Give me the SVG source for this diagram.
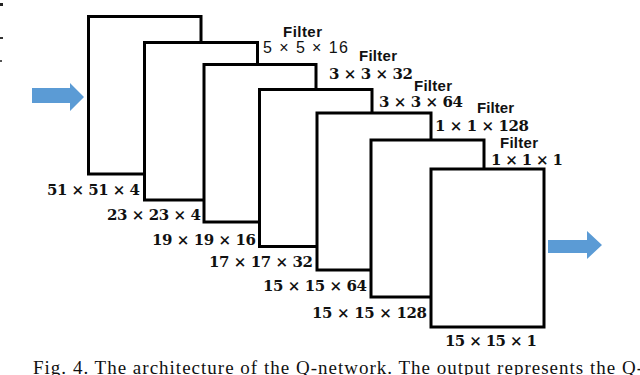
<svg xmlns="http://www.w3.org/2000/svg" width="640" height="375" viewBox="0 0 640 375">
<style>
.layer{fill:#fff;stroke:#000;stroke-width:3}
.flt{font-family:"Liberation Sans",Arial,sans-serif;font-weight:bold;font-size:15px;fill:#111}
.dim{font-family:"DejaVu Serif","Liberation Serif",serif;font-weight:bold;font-size:15px;fill:#111}
.dims{font-family:"Liberation Sans",Arial,sans-serif;font-size:16px;fill:#111}
.arrow{fill:#5B9BD5}
.cap{font-family:"Liberation Serif","Times New Roman",serif;font-size:19px;fill:#111}
</style>
<rect x="0" y="3" width="3" height="3" fill="#222"/>
<rect x="0" y="37" width="3" height="2" fill="#333"/>
<rect x="0" y="60" width="2" height="2" fill="#555"/>
<g id="connectors">
<polygon class="arrow" points="32,88 70,88 70,83 84,97 70,111 70,103 32,103"/>
<polygon class="arrow" points="548,240 587,240 587,231 602,245 587,259 587,253 548,253"/>
</g>
<g id="layer1"><rect class="layer" x="88.5" y="16.5" width="112.5" height="157.5"/><text class="dim" x="47" y="195" textLength="93">51 × 51 × 4</text></g>
<g id="layer2"><rect class="layer" x="144.5" y="42.5" width="113" height="157.5"/><text class="dim" x="107" y="220" textLength="94">23 × 23 × 4</text><text class="flt" x="283" y="37" textLength="39">Filter</text><text class="dims" x="263" y="53" textLength="85">5 × 5 × 16</text></g>
<g id="layer3"><rect class="layer" x="204" y="64.5" width="112" height="157.5"/><text class="dim" x="152" y="245" textLength="104">19 × 19 × 16</text><text class="flt" x="359" y="61" textLength="38">Filter</text><text class="dim" x="329" y="79" textLength="84">3 × 3 × 32</text></g>
<g id="layer4"><rect class="layer" x="259.5" y="89.5" width="112.5" height="157"/><text class="dim" x="209" y="267" textLength="104">17 × 17 × 32</text><text class="flt" x="414" y="91" textLength="38">Filter</text><text class="dim" x="379" y="107" textLength="84">3 × 3 × 64</text></g>
<g id="layer5"><rect class="layer" x="317" y="113" width="114" height="157"/><text class="dim" x="263" y="291" textLength="104">15 × 15 × 64</text><text class="flt" x="477" y="113" textLength="37">Filter</text><text class="dim" x="435" y="131" textLength="94">1 × 1 × 128</text></g>
<g id="layer6"><rect class="layer" x="371" y="140" width="113" height="157"/><text class="dim" x="312" y="318" textLength="115">15 × 15 × 128</text><text class="flt" x="500" y="148" textLength="38">Filter</text><text class="dim" x="491" y="165" textLength="72">1 × 1 × 1</text></g>
<g id="layer7"><rect class="layer" x="431" y="169" width="113" height="158"/><text class="dim" x="445" y="346" textLength="92">15 × 15 × 1</text></g>
<text class="cap" x="33" y="374" textLength="610">Fig. 4.  The architecture of the Q-network. The output represents the Q-</text>
</svg>
